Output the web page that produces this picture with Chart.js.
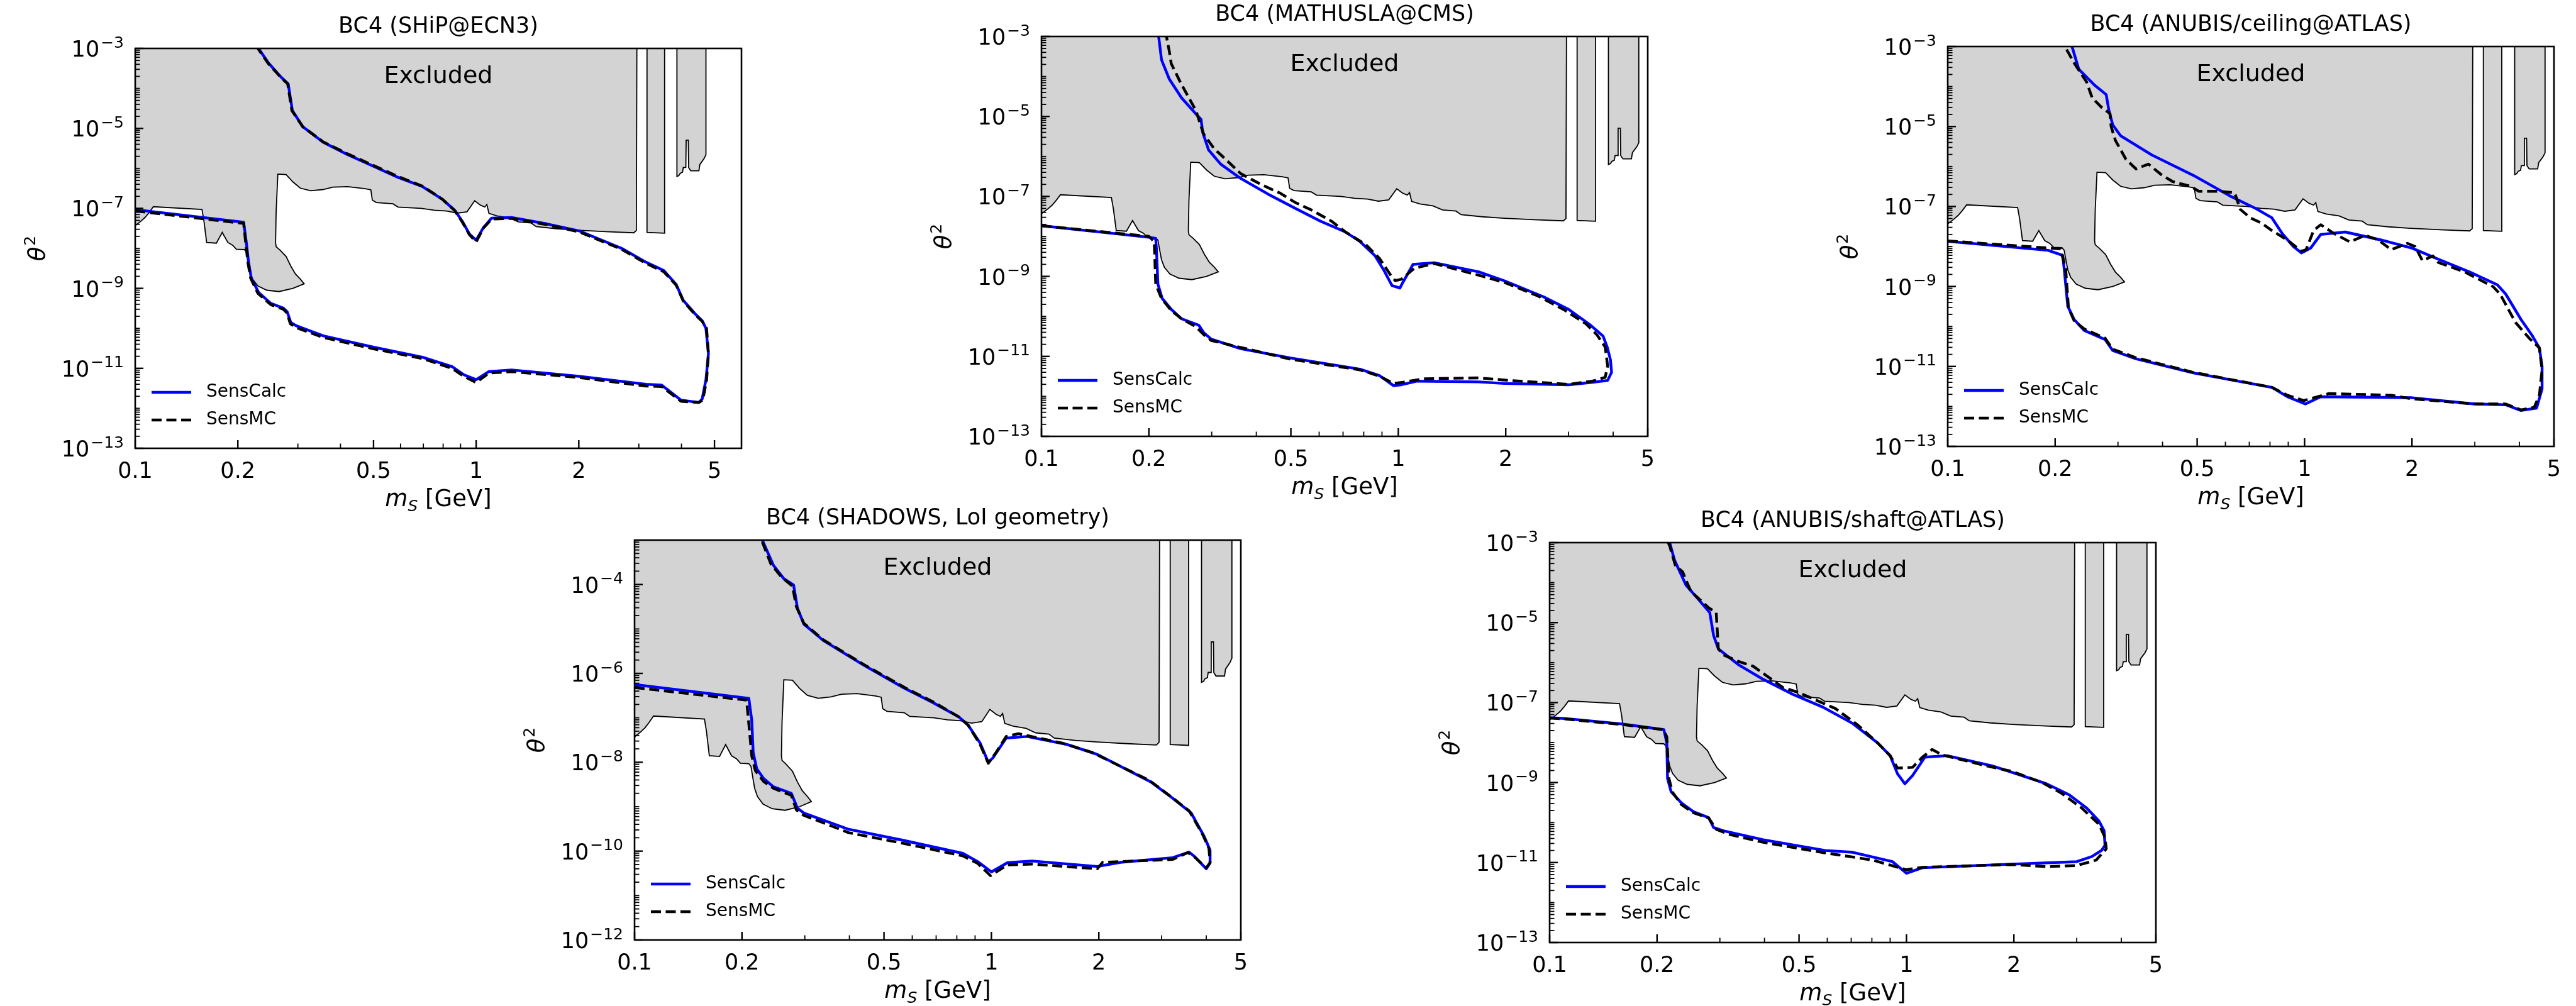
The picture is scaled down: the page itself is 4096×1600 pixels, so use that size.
<!DOCTYPE html>
<html>
<head>
<meta charset="utf-8">
<title>BC4 sensitivity comparison</title>
<script src="https://cdn.jsdelivr.net/npm/chart.js@4.4.1/dist/chart.umd.min.js"></script>
<style>
  html, body { margin: 0; padding: 0; background: #fff; overflow: hidden; }
  #page { position: relative; width: 4096px; height: 1600px; }
  #page canvas { position: absolute; }
</style>
</head>
<body>
<div id="page"></div>
<script>
// ---- axis ticks ----
const xTickValues = [0.1, 0.2, 0.5, 1, 2, 5];
const xMinorValues = [0.3, 0.4, 0.6, 0.7, 0.8, 0.9, 3, 4];
const yLabelExpOdd = [-13, -11, -9, -7, -5, -3];
const yLabelExpEven = [-12, -10, -8, -6, -4];
const yMinorSteps = [1, 2, 3, 4, 5, 6, 7, 8, 9];

// ---- excluded region (same constraint in every panel), [m_S GeV, theta^2] ----
const excludedMain = [
  [0.1, 1e-3], [0.1, 3.7e-8], [0.104, 4.8e-8], [0.107, 6.0e-8], [0.110, 8.0e-8], [0.113, 1.1e-7],
  [0.157, 9.4e-8], [0.159, 5e-8], [0.162, 1.4e-8], [0.173, 1.35e-8], [0.180, 2.5e-8], [0.187, 1.4e-8],
  [0.193, 1.2e-8], [0.198, 9.5e-9], [0.209, 9.3e-9], [0.212, 8e-9], [0.214, 5e-9], [0.217, 2.6e-9],
  [0.221, 1.7e-9], [0.229, 1.15e-9], [0.243, 9e-10], [0.264, 8.3e-10], [0.29, 1.0e-9], [0.313, 1.3e-9],
  [0.305, 1.7e-9], [0.295, 2.3e-9], [0.286, 3.6e-9], [0.277, 6.3e-9], [0.266, 9e-9], [0.259, 1.1e-8],
  [0.258, 1.4e-8], [0.259, 8e-8], [0.262, 7.2e-7], [0.277, 7.0e-7], [0.29, 4.6e-7], [0.305, 3.2e-7],
  [0.327, 2.75e-7], [0.355, 2.95e-7], [0.38, 3.4e-7], [0.42, 3.5e-7], [0.473, 3.1e-7], [0.491, 2.9e-7],
  [0.496, 1.6e-7], [0.51, 1.4e-7], [0.57, 1.3e-7], [0.59, 1.08e-7], [0.69, 1.0e-7], [0.754, 9.0e-8],
  [0.82, 8.6e-8], [0.88, 7.6e-8], [0.94, 8.2e-8], [0.99, 1.55e-7], [1.03, 1.2e-7], [1.06, 1.08e-7],
  [1.075, 1.25e-7], [1.09, 7.5e-8], [1.15, 6.5e-8], [1.25, 5.8e-8], [1.33, 4.6e-8], [1.45, 4.3e-8],
  [1.5, 3.5e-8], [1.72, 3.1e-8], [1.98, 2.85e-8], [2.45, 2.6e-8], [2.9, 2.45e-8], [2.95, 2.8e-8], [2.96, 1e-3]
];
const excludedBar1 = [[3.17, 1e-3], [3.17, 2.5e-8], [3.57, 2.4e-8], [3.57, 1e-3]];
const excludedBar2 = [
  [3.88, 1e-3], [3.88, 6.3e-7], [3.93, 6.6e-7], [3.97, 7.6e-7], [4.03, 8.0e-7], [4.05, 1.05e-6],
  [4.12, 1.05e-6], [4.13, 5.1e-6], [4.19, 5.1e-6], [4.2, 1.05e-6], [4.26, 8.7e-7], [4.5, 8.7e-7],
  [4.53, 1.25e-6], [4.66, 1.75e-6], [4.72, 2.2e-6], [4.72, 1e-3]
];

// ---- sensitivity curves ----
const shipCalc = [
  [0.1, 9.3e-8], [0.208, 4.5e-8], [0.212, 1.3e-8], [0.215, 4.5e-9], [0.219, 1.8e-9], [0.23, 7.9e-10],
  [0.25, 4.2e-10], [0.272, 3.2e-10], [0.279, 2.6e-10], [0.286, 1.4e-10], [0.296, 1.17e-10], [0.356, 6.5e-11],
  [0.498, 3.4e-11], [0.696, 1.9e-11], [0.85, 1.1e-11], [0.92, 6.9e-12], [1.0, 5.2e-12], [1.09, 8.3e-12],
  [1.27, 9.1e-12], [2.0, 6.3e-12], [3.15, 4.0e-12], [3.5, 3.8e-12], [3.99, 1.6e-12], [4.5, 1.4e-12],
  [4.6, 1.7e-12], [4.72, 5.2e-12], [4.8, 2.3e-11], [4.72, 1.0e-10], [4.6, 1.55e-10], [4.41, 2.2e-10],
  [4.05, 5.0e-10], [3.86, 1.25e-9], [3.55, 2.8e-9], [3.15, 4.5e-9], [2.67, 1.0e-8], [2.0, 2.75e-8],
  [1.61, 4.1e-8], [1.27, 5.9e-8], [1.11, 5.7e-8], [1.05, 3.3e-8], [1.0, 1.6e-8], [0.955, 2.3e-8],
  [0.91, 4.8e-8], [0.866, 8.9e-8], [0.795, 1.7e-7], [0.696, 3.5e-7], [0.589, 6.0e-7], [0.498, 1.15e-6],
  [0.42, 2.2e-6], [0.356, 4.5e-6], [0.31, 1.1e-5], [0.289, 2.8e-5], [0.281, 1.3e-4], [0.268, 1.9e-4],
  [0.246, 4.3e-4], [0.23, 1e-3]
];
const shipMC = [
  [0.1, 8.6e-8], [0.208, 4.2e-8], [0.211, 1.3e-8], [0.214, 4.5e-9], [0.218, 1.8e-9], [0.229, 7.5e-10],
  [0.25, 3.9e-10], [0.272, 3.0e-10], [0.279, 2.4e-10], [0.285, 1.3e-10], [0.296, 1.05e-10], [0.356, 5.9e-11],
  [0.498, 3.1e-11], [0.696, 1.75e-11], [0.85, 1.0e-11], [0.92, 6.3e-12], [1.0, 4.4e-12], [1.09, 7.6e-12],
  [1.27, 8.3e-12], [2.0, 5.9e-12], [3.15, 3.6e-12], [3.5, 3.5e-12], [3.99, 1.5e-12], [4.5, 1.4e-12],
  [4.62, 1.6e-12], [4.74, 5e-12], [4.8, 2.3e-11], [4.74, 1.0e-10], [4.6, 1.5e-10], [4.41, 2.1e-10],
  [4.05, 4.8e-10], [3.86, 1.2e-9], [3.55, 2.6e-9], [3.15, 4.2e-9], [2.67, 9.5e-9], [2.0, 2.6e-8],
  [1.61, 3.9e-8], [1.27, 5.6e-8], [1.11, 5.4e-8], [1.05, 3.2e-8], [1.0, 1.45e-8], [0.955, 2.2e-8],
  [0.91, 4.6e-8], [0.866, 8.7e-8], [0.795, 1.7e-7], [0.696, 3.6e-7], [0.589, 6.3e-7], [0.498, 1.2e-6],
  [0.42, 2.3e-6], [0.356, 4.6e-6], [0.31, 1.1e-5], [0.288, 2.8e-5], [0.28, 1.3e-4], [0.267, 1.9e-4],
  [0.245, 4.3e-4], [0.229, 1e-3]
];
const mathuslaCalc = [
  [0.1, 1.85e-8], [0.2, 9.5e-9], [0.209, 8.9e-9], [0.21, 4.8e-9], [0.212, 6.4e-10], [0.218, 2.8e-10],
  [0.231, 1.5e-10], [0.247, 8.7e-11], [0.276, 6.0e-11], [0.285, 3.9e-11], [0.299, 2.7e-11], [0.362, 1.55e-11],
  [0.499, 9.1e-12], [0.78, 4.8e-12], [0.886, 3.3e-12], [0.97, 1.85e-12], [1.02, 1.95e-12], [1.13, 2.4e-12],
  [1.68, 2.3e-12], [1.98, 2.1e-12], [3.0, 1.95e-12], [3.5, 2.25e-12], [3.86, 2.5e-12], [3.96, 4.0e-12],
  [3.93, 8.3e-12], [3.85, 1.7e-11], [3.75, 3.2e-11], [3.46, 6.0e-11], [3.0, 1.5e-10], [2.55, 3.1e-10],
  [1.98, 7.8e-10], [1.68, 1.3e-9], [1.26, 2.2e-9], [1.1, 2.0e-9], [1.03, 7.1e-10], [1.01, 5.1e-10],
  [0.96, 5.9e-10], [0.91, 1.45e-9], [0.86, 3.3e-9], [0.78, 7.5e-9], [0.71, 1.3e-8], [0.605, 2.4e-8],
  [0.515, 5.0e-8], [0.439, 1.05e-7], [0.362, 2.8e-7], [0.318, 6.4e-7], [0.294, 1.45e-6], [0.283, 4.0e-6],
  [0.28, 8.5e-6], [0.273, 1.07e-5], [0.247, 2.9e-5], [0.228, 8.7e-5], [0.217, 2.6e-4], [0.213, 1e-3]
];
const mathuslaMC = [
  [0.1, 1.85e-8], [0.2, 1.0e-8], [0.207, 7.5e-9], [0.209, 6.4e-10], [0.217, 2.8e-10], [0.231, 1.4e-10],
  [0.247, 8.7e-11], [0.271, 5.5e-11], [0.285, 3.5e-11], [0.299, 2.5e-11], [0.499, 8.5e-12], [0.78, 4.6e-12],
  [0.886, 3.2e-12], [0.97, 2.1e-12], [1.03, 2.25e-12], [1.18, 2.75e-12], [1.68, 2.9e-12], [2.05, 2.5e-12],
  [3.0, 2.0e-12], [3.5, 2.4e-12], [3.8, 3.0e-12], [3.86, 5.8e-12], [3.8, 1.7e-11], [3.6, 3.5e-11],
  [3.35, 6.6e-11], [2.9, 1.5e-10], [2.47, 3.2e-10], [1.98, 7.1e-10], [1.63, 1.15e-9], [1.26, 2.1e-9],
  [1.11, 1.6e-9], [1.02, 8.5e-10], [0.98, 7.8e-10], [0.95, 1.1e-9], [0.886, 2.8e-9], [0.81, 6.3e-9],
  [0.71, 1.3e-8], [0.65, 2.4e-8], [0.57, 4.6e-8], [0.515, 7.0e-8], [0.467, 1.2e-7], [0.412, 2.0e-7],
  [0.362, 3.7e-7], [0.329, 8.3e-7], [0.304, 1.6e-6], [0.285, 3.6e-6], [0.28, 5.6e-6], [0.271, 1.4e-5],
  [0.256, 3.5e-5], [0.245, 7.2e-5], [0.231, 2.1e-4], [0.228, 4.4e-4], [0.224, 1e-3]
];
const ceilingCalc = [
  [0.1, 1.35e-8], [0.191, 8.0e-9], [0.21, 6.0e-9], [0.212, 2.8e-9], [0.217, 3.2e-10], [0.226, 1.5e-10],
  [0.241, 8.0e-11], [0.276, 4.7e-11], [0.29, 2.5e-11], [0.337, 1.55e-11], [0.488, 6.9e-12], [0.81, 3.0e-12],
  [0.895, 1.75e-12], [1.005, 1.15e-12], [1.11, 1.75e-12], [2.0, 1.65e-12], [3.0, 1.15e-12], [3.66, 1.1e-12],
  [4.04, 7.9e-13], [4.47, 9.1e-13], [4.63, 2.75e-12], [4.63, 1.0e-11], [4.55, 2.9e-11], [4.33, 6.2e-11],
  [4.04, 1.5e-10], [3.66, 6.5e-10], [3.47, 1.1e-9], [2.9, 2.3e-9], [2.37, 4.8e-9], [2.0, 9.1e-9],
  [1.64, 1.45e-8], [1.3, 2.3e-8], [1.11, 2.0e-8], [1.04, 9.1e-9], [0.98, 6.9e-9], [0.93, 1.0e-8],
  [0.866, 2.1e-8], [0.81, 5.2e-8], [0.73, 8.9e-8], [0.617, 1.85e-7], [0.488, 6.0e-7], [0.373, 1.95e-6],
  [0.305, 5.9e-6], [0.29, 1.1e-5], [0.283, 2.5e-5], [0.278, 6.3e-5], [0.258, 1.08e-4], [0.233, 2.7e-4],
  [0.223, 1e-3]
];
const ceilingMC = [
  [0.1, 1.38e-8], [0.207, 8.7e-9], [0.214, 2.8e-9], [0.218, 2.9e-10], [0.226, 1.4e-10], [0.241, 8.7e-11],
  [0.276, 5.1e-11], [0.29, 2.7e-11], [0.337, 1.65e-11], [0.488, 7.1e-12], [0.81, 3.0e-12], [0.895, 1.9e-12],
  [0.995, 1.4e-12], [1.17, 2.1e-12], [1.75, 1.9e-12], [2.0, 1.55e-12], [3.0, 1.15e-12], [3.66, 1.15e-12],
  [4.04, 8.2e-13], [4.4, 9.5e-13], [4.55, 1.9e-12], [4.63, 8.2e-12], [4.55, 2.9e-11], [4.26, 5.1e-11],
  [3.9, 1.26e-10], [3.53, 6.5e-10], [3.37, 1.0e-9], [2.81, 2.3e-9], [2.37, 4.0e-9], [2.29, 5.8e-9],
  [2.14, 4.4e-9], [2.04, 1.0e-8], [1.94, 1.2e-8], [1.75, 8.3e-9], [1.61, 1.45e-8], [1.48, 1.9e-8],
  [1.34, 1.3e-8], [1.21, 2.1e-8], [1.11, 3.5e-8], [1.06, 2.5e-8], [1.01, 8.3e-9], [0.98, 7.6e-9],
  [0.895, 1.45e-8], [0.81, 2.5e-8], [0.756, 3.9e-8], [0.707, 5.1e-8], [0.66, 8.5e-8], [0.637, 2.2e-7],
  [0.577, 2.4e-7], [0.505, 2.4e-7], [0.48, 3.2e-7], [0.427, 4.2e-7], [0.399, 6.0e-7], [0.365, 1.15e-6],
  [0.337, 8.7e-7], [0.316, 1.5e-6], [0.295, 4.5e-6], [0.287, 1.0e-5], [0.285, 2.1e-5], [0.27, 3.0e-5],
  [0.254, 5.2e-5], [0.245, 1.3e-4], [0.226, 3.9e-4], [0.213, 1e-3]
];
const shadowsCalc = [
  [0.1, 5.6e-7], [0.209, 2.75e-7], [0.213, 8.9e-8], [0.215, 1.65e-8], [0.22, 7.1e-9], [0.23, 4.3e-9],
  [0.245, 2.8e-9], [0.275, 2.0e-9], [0.286, 9.3e-10], [0.298, 7.2e-10], [0.398, 3.1e-10], [0.566, 1.75e-10],
  [0.832, 8.9e-11], [0.915, 5.8e-11], [1.0, 3.4e-11], [1.11, 5.5e-11], [1.3, 6.0e-11], [1.98, 4.5e-11],
  [2.3, 5.6e-11], [3.22, 7.1e-11], [3.58, 9.5e-11], [3.72, 7.4e-11], [4.0, 4.0e-11], [4.1, 5.4e-11],
  [4.1, 1.05e-10], [3.94, 2.2e-10], [3.63, 7.2e-10], [3.22, 1.55e-9], [2.8, 3.6e-9], [1.98, 1.5e-8],
  [1.63, 2.5e-8], [1.26, 3.8e-8], [1.1, 3.5e-8], [1.01, 1.26e-8], [0.98, 1.0e-8], [0.93, 2.7e-8],
  [0.86, 6.9e-8], [0.81, 1.05e-7], [0.686, 2.2e-7], [0.566, 4.8e-7], [0.438, 1.55e-6], [0.338, 5.5e-6],
  [0.298, 1.29e-5], [0.286, 2.95e-5], [0.279, 9.8e-5], [0.262, 1.35e-4], [0.245, 2.7e-4], [0.228, 1e-3]
];
const shadowsMC = [
  [0.1, 4.8e-7], [0.206, 2.5e-7], [0.209, 7.4e-8], [0.213, 1.4e-8], [0.218, 6.5e-9], [0.23, 3.7e-9],
  [0.245, 2.6e-9], [0.275, 1.8e-9], [0.284, 8.5e-10], [0.298, 6.4e-10], [0.398, 2.6e-10], [0.566, 1.5e-10],
  [0.832, 7.8e-11], [0.915, 5.3e-11], [0.994, 2.8e-11], [1.11, 4.9e-11], [1.3, 5.1e-11], [1.98, 4.0e-11],
  [2.05, 5.6e-11], [3.22, 6.5e-11], [3.55, 9.3e-11], [3.72, 7.2e-11], [4.0, 4.2e-11], [4.1, 5.5e-11],
  [4.07, 1.15e-10], [3.9, 2.45e-10], [3.58, 8.1e-10], [3.18, 1.7e-9], [2.77, 3.9e-9], [1.92, 1.65e-8],
  [1.58, 2.7e-8], [1.19, 4.4e-8], [1.1, 3.8e-8], [1.03, 1.65e-8], [0.98, 9.5e-9], [0.93, 2.5e-8],
  [0.86, 6.9e-8], [0.81, 1.05e-7], [0.686, 2.3e-7], [0.583, 4.4e-7], [0.438, 1.6e-6], [0.338, 5.7e-6],
  [0.298, 1.35e-5], [0.284, 3.2e-5], [0.277, 9.2e-5], [0.258, 1.47e-4], [0.241, 2.9e-4], [0.227, 1e-3]
];
const shaftCalc = [
  [0.1, 4.2e-8], [0.11, 4.0e-8], [0.161, 2.9e-8], [0.209, 2.1e-8], [0.213, 9.8e-9], [0.214, 1.26e-9],
  [0.219, 5.9e-10], [0.234, 3.1e-10], [0.253, 1.86e-10], [0.279, 1.33e-10], [0.288, 7.5e-11], [0.307, 6.2e-11],
  [0.397, 3.7e-11], [0.592, 2.0e-11], [0.707, 1.8e-11], [0.914, 1.05e-11], [1.0, 5.4e-12], [1.108, 7.4e-12],
  [1.976, 9.1e-12], [3.0, 1.05e-11], [3.3, 1.4e-11], [3.52, 2.0e-11], [3.6, 2.7e-11], [3.58, 6.2e-11],
  [3.46, 1.1e-10], [3.2, 2.3e-10], [2.86, 4.9e-10], [2.47, 9.3e-10], [1.976, 1.8e-9], [1.74, 2.6e-9],
  [1.3, 4.7e-9], [1.126, 4.3e-9], [1.04, 1.5e-9], [0.99, 9.3e-10], [0.944, 1.65e-9], [0.9, 4.7e-9],
  [0.83, 9.8e-9], [0.707, 3.0e-8], [0.583, 7.7e-8], [0.481, 1.6e-7], [0.397, 3.8e-7], [0.338, 8.9e-7],
  [0.297, 2.2e-6], [0.288, 4.8e-6], [0.281, 1.78e-5], [0.262, 3.7e-5], [0.241, 8.7e-5], [0.224, 3.6e-4],
  [0.217, 1e-3]
];
const shaftMC = [
  [0.1, 4.1e-8], [0.11, 3.9e-8], [0.161, 2.8e-8], [0.208, 2.1e-8], [0.213, 1.4e-8], [0.216, 1.26e-9],
  [0.221, 5.7e-10], [0.234, 2.8e-10], [0.253, 1.75e-10], [0.279, 1.3e-10], [0.293, 6.8e-11], [0.317, 5.1e-11],
  [0.397, 3.2e-11], [0.592, 1.74e-11], [0.804, 1.15e-11], [1.0, 6.6e-12], [1.108, 7.6e-12], [1.976, 8.9e-12],
  [2.47, 7.9e-12], [3.0, 8.4e-12], [3.4, 1.15e-11], [3.63, 2.2e-11], [3.6, 4.3e-11], [3.46, 9.1e-11],
  [3.1, 2.3e-10], [2.72, 5.4e-10], [2.4, 1.0e-9], [1.976, 1.9e-9], [1.68, 2.6e-9], [1.26, 4.9e-9],
  [1.18, 6.7e-9], [1.108, 4.3e-9], [1.04, 2.4e-9], [0.944, 2.3e-9], [0.9, 4.7e-9], [0.83, 9.8e-9],
  [0.73, 2.75e-8], [0.632, 7.1e-8], [0.497, 1.8e-7], [0.45, 2.4e-7], [0.39, 6.0e-7], [0.372, 8.1e-7],
  [0.338, 1.07e-6], [0.307, 1.55e-6], [0.297, 2.2e-6], [0.293, 1.78e-5], [0.279, 2.35e-5], [0.249, 6.0e-5],
  [0.241, 1.15e-4], [0.236, 1.85e-4], [0.225, 2.7e-4], [0.217, 8.3e-4], [0.215, 1e-3]
];

// ---- layout (reference pixels are scaled by S) ----
const S = 0.949;
const PLOT_W = 1016 * S, PLOT_H = 670 * S;
const PAD_L = 250, PAD_R = 50, PAD_T = 110, PAD_B = 130;
const FONT = "'DejaVu Sans', 'Liberation Sans', sans-serif";
const TICK_FONT = 35, SUP_FONT = 25, LABEL_FONT = 37, SUB_FONT = 25, TITLE_FONT = 35, LEGEND_FONT = 28, EXCL_FONT = 38;
const MAJ_LEN = 13, MIN_LEN = 7.5, MAJ_W = 2.4, MIN_W = 1.8;
const CALC_COLOR = '#0000ff', MC_COLOR = '#000000', EXCL_FILL = '#d3d3d3';
const LINE_W = 4.4, MC_DASH = [16, 7.5];

const panels = [
  { title: 'BC4 (SHiP@ECN3)', left: 227, top: 81, xMax: 6, yMin: 1e-13, yMax: 1e-3, yLabels: yLabelExpOdd, calc: shipCalc, mc: shipMC },
  { title: 'BC4 (MATHUSLA@CMS)', left: 1745, top: 61, xMax: 5, yMin: 1e-13, yMax: 1e-3, yLabels: yLabelExpOdd, calc: mathuslaCalc, mc: mathuslaMC },
  { title: 'BC4 (ANUBIS/ceiling@ATLAS)', left: 3263, top: 78, xMax: 5, yMin: 1e-13, yMax: 1e-3, yLabels: yLabelExpOdd, calc: ceilingCalc, mc: ceilingMC },
  { title: 'BC4 (SHADOWS, LoI geometry)', left: 1063, top: 905, xMax: 5, yMin: 1e-12, yMax: 1e-3, yLabels: yLabelExpEven, calc: shadowsCalc, mc: shadowsMC },
  { title: 'BC4 (ANUBIS/shaft@ATLAS)', left: 2596, top: 909, xMax: 5, yMin: 1e-13, yMax: 1e-3, yLabels: yLabelExpOdd, calc: shaftCalc, mc: shaftMC }
];

const toXY = pts => pts.map(([x, y]) => ({ x, y }));

function curve(pts, color, dash, order) {
  return {
    data: toXY(pts), showLine: true, fill: false, tension: 0, pointRadius: 0,
    borderColor: color, borderWidth: LINE_W, borderDash: dash, borderCapStyle: 'butt',
    borderJoinStyle: 'round', order
  };
}

function region(pts) {
  return {
    data: toXY(pts), showLine: true, fill: 'shape', tension: 0, pointRadius: 0,
    backgroundColor: EXCL_FILL, borderColor: '#000', borderWidth: 1.8, order: 5
  };
}

function drawPow(ctx, e, xr, yc) {
  const base = '10', sup = '\u2212' + Math.abs(e);
  ctx.font = `${TICK_FONT}px ${FONT}`;
  const wb = ctx.measureText(base).width;
  ctx.font = `${SUP_FONT}px ${FONT}`;
  const ws = ctx.measureText(sup).width;
  const x0 = xr - wb - ws - 2;
  ctx.font = `${TICK_FONT}px ${FONT}`;
  ctx.fillText(base, x0, yc + 13);
  ctx.font = `${SUP_FONT}px ${FONT}`;
  ctx.fillText(sup, x0 + wb + 2, yc - 1.5);
}

function makeDecor(p) {
  return {
    id: 'decor',
    afterDraw(chart) {
      const { ctx, chartArea: a, scales: { x, y } } = chart;
      ctx.save();
      ctx.strokeStyle = '#000';
      ctx.fillStyle = '#000';
      ctx.lineCap = 'butt';
      const mark = (px, py, dx, dy, w) => {
        ctx.lineWidth = w;
        ctx.beginPath();
        ctx.moveTo(px, py);
        ctx.lineTo(px + dx, py + dy);
        ctx.stroke();
      };
      // inward ticks
      xTickValues.forEach(v => { if (v <= p.xMax) mark(x.getPixelForValue(v), a.bottom, 0, -MAJ_LEN, MAJ_W); });
      xMinorValues.forEach(v => { if (v <= p.xMax) mark(x.getPixelForValue(v), a.bottom, 0, -MIN_LEN, MIN_W); });
      const eLo = Math.round(Math.log10(p.yMin)), eHi = Math.round(Math.log10(p.yMax));
      for (let e = eLo; e < eHi; e++) {
        yMinorSteps.forEach(k => {
          if (k === 1 && p.yLabels.includes(e)) return;
          mark(a.left, y.getPixelForValue(k * Math.pow(10, e)), MIN_LEN, 0, MIN_W);
        });
      }
      p.yLabels.forEach(e => mark(a.left, y.getPixelForValue(Math.pow(10, e)), MAJ_LEN, 0, MAJ_W));

      // frame
      ctx.lineWidth = 2.6;
      ctx.strokeRect(a.left, a.top, a.right - a.left, a.bottom - a.top);

      // y tick labels
      ctx.textAlign = 'left';
      ctx.textBaseline = 'alphabetic';
      p.yLabels.forEach(e => drawPow(ctx, e, a.left - 18, y.getPixelForValue(Math.pow(10, e))));

      const cx = (a.left + a.right) / 2;
      // title
      ctx.textAlign = 'center';
      ctx.font = `${TITLE_FONT}px ${FONT}`;
      ctx.fillText(p.title, cx, a.top - 25);
      // Excluded label
      ctx.font = `${EXCL_FONT}px ${FONT}`;
      ctx.fillText('Excluded', cx, a.top + 55);

      // x axis label: m_S [GeV]
      ctx.textAlign = 'left';
      const fM = `italic ${LABEL_FONT}px ${FONT}`, fS = `italic ${SUB_FONT}px ${FONT}`, fG = `${LABEL_FONT}px ${FONT}`;
      ctx.font = fM; const wM = ctx.measureText('m').width;
      ctx.font = fS; const wS = ctx.measureText('S').width;
      ctx.font = fG; const wG = ctx.measureText(' [GeV]').width;
      let lx = cx - (wM + wS + wG) / 2;
      const lb = a.bottom + 92;
      ctx.font = fM; ctx.fillText('m', lx, lb); lx += wM;
      ctx.font = fS; ctx.fillText('S', lx, lb + 8); lx += wS;
      ctx.font = fG; ctx.fillText(' [GeV]', lx, lb);

      // y axis label: theta^2
      ctx.save();
      ctx.translate(a.left - 163, (a.top + a.bottom) / 2);
      ctx.rotate(-Math.PI / 2);
      const fT = `italic ${LABEL_FONT}px ${FONT}`, f2 = `${SUP_FONT}px ${FONT}`;
      ctx.font = fT; const wT = ctx.measureText('\u03B8').width;
      ctx.font = f2; const w2 = ctx.measureText('2').width;
      const tx = -(wT + w2 + 2) / 2;
      ctx.font = fT; ctx.fillText('\u03B8', tx, 19);
      ctx.font = f2; ctx.fillText('2', tx + wT + 2, 4);
      ctx.restore();

      // legend
      const entries = [
        { label: 'SensCalc', color: CALC_COLOR, dash: [], y: a.bottom - 89 },
        { label: 'SensMC', color: MC_COLOR, dash: MC_DASH, y: a.bottom - 45 }
      ];
      ctx.font = `${LEGEND_FONT}px ${FONT}`;
      ctx.textBaseline = 'middle';
      entries.forEach(en => {
        ctx.strokeStyle = en.color;
        ctx.lineWidth = LINE_W;
        ctx.setLineDash(en.dash);
        ctx.beginPath();
        ctx.moveTo(a.left + 26, en.y);
        ctx.lineTo(a.left + 89, en.y);
        ctx.stroke();
        ctx.setLineDash([]);
        ctx.fillText(en.label, a.left + 113, en.y);
      });
      ctx.restore();
    }
  };
}

Chart.defaults.font.family = FONT;
Chart.defaults.color = '#000';

const page = document.getElementById('page');
panels.forEach(p => {
  const canvas = document.createElement('canvas');
  const W = Math.round(PLOT_W), H = Math.round(PLOT_H);
  canvas.width = PAD_L + W + PAD_R;
  canvas.height = PAD_T + H + PAD_B;
  canvas.style.left = Math.round(p.left * S - PAD_L) + 'px';
  canvas.style.top = Math.round(p.top * S - PAD_T) + 'px';
  page.appendChild(canvas);

  new Chart(canvas, {
    type: 'scatter',
    data: {
      datasets: [
        curve(p.mc, MC_COLOR, MC_DASH, 0),
        curve(p.calc, CALC_COLOR, [], 1),
        region(excludedMain),
        region(excludedBar1),
        region(excludedBar2)
      ]
    },
    options: {
      responsive: false,
      animation: false,
      devicePixelRatio: 1,
      events: [],
      layout: { padding: { left: 0, right: PAD_R, top: PAD_T, bottom: 0 } },
      plugins: { legend: { display: false }, tooltip: { enabled: false } },
      scales: {
        x: {
          type: 'logarithmic', min: 0.1, max: p.xMax,
          grid: { display: false }, border: { display: false },
          afterBuildTicks: s => { s.ticks = xTickValues.filter(v => v <= p.xMax).map(v => ({ value: v })); },
          afterFit: s => { s.height = PAD_B; },
          ticks: {
            autoSkip: false, maxRotation: 0, minRotation: 0, padding: 9, color: '#000',
            font: { family: FONT, size: TICK_FONT },
            callback: v => String(v)
          }
        },
        y: {
          type: 'logarithmic', min: p.yMin, max: p.yMax,
          grid: { display: false }, border: { display: false },
          ticks: { display: false },
          afterFit: s => { s.width = PAD_L; }
        }
      }
    },
    plugins: [makeDecor(p)]
  });
});
</script>
</body>
</html>
